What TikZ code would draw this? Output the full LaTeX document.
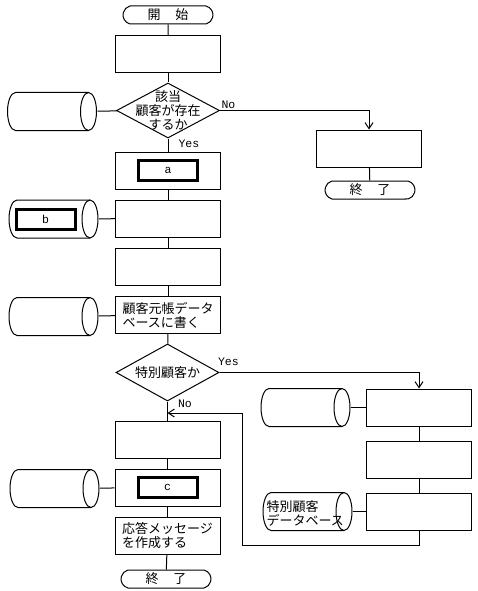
\documentclass[tikz,border=0pt]{standalone}
\usepackage{fontspec}
\setmainfont{Noto Sans CJK JP}
\setmonofont{Liberation Mono}
\usetikzlibrary{shapes.geometric}
\usetikzlibrary{shapes.misc}
\usetikzlibrary{positioning}
\usetikzlibrary{arrows.meta}
\tikzset{
    every node/.style={inner sep=0pt},
    term/.style={
        draw,
        rounded rectangle,
        rounded rectangle arc length=150,
        minimum width=90pt,
        minimum height=18pt},
    proc/.style={
        draw,
        minimum width=105pt,
        minimum height=37pt,
        align=left},
    dec/.style={
        draw,
        diamond,
        minimum width=103pt,
        minimum height=55pt},
    db/.style={
        minimum width=90pt,
        minimum height=39pt,
        path picture={
            \draw[line width=1pt]
                ([xshift=-8.5pt,yshift=-0.5pt]path picture bounding box.north east)
                -- ([xshift=8.5pt,yshift=-0.5pt]path picture bounding box.north west)
                arc[start angle=90,end angle=270,x radius=8pt,y radius=19pt]
                -- ([xshift=-8.5pt,yshift=0.5pt]path picture bounding box.south east);
            \draw[line width=1pt]
                ([xshift=-8.5pt]path picture bounding box.east)
                ellipse[x radius=8pt,y radius=19pt];}},
    key/.style={
        draw,
        line width=3pt,
        minimum width=59pt,
        minimum height=20pt,
        font=\ttfamily\fontsize{11.5}{12}\selectfont},
    lbl/.style={
        inner sep=1pt,
        font=\ttfamily\fontsize{11.5}{12}\selectfont},
    conn/.style={
        draw,
        line width=1pt},
    flow/.style={
        conn,
        -{Straight Barb[length=6pt,width=8pt]}}}

\begin{document}
\begin{tikzpicture}[x=1pt,y=-1pt,line width=1pt,font=\fontsize{13}{14}\selectfont]
    \useasboundingbox (0,0) rectangle (477,591);

    % main column
    \node[term] (start) at (168,15) {開\hspace{15pt}始};
    \node[proc] (p1) at (168,54.5) {};
    \node[dec,label={[align=center]center:該当\\顧客が存在\\するか}] (found) at (168,110.5) {};
    \node[proc] (pa) at (168,170.5) {};
    \node[key] (a) at (pa) {a};
    \node[proc] (pb) at (168,218.5) {};
    \node[proc] (p3) at (168,267) {};
    \node[proc] (write) at (168,315) {顧客元帳データ\\ベースに書く};
    \node[dec,minimum height=57pt,label=center:特別顧客か] (special) at (167.5,372.5) {};
    \coordinate (join) at (167.5,413);
    \node[proc] (p5) at (167.5,439.5) {};
    \node[proc] (pc) at (167.5,487.5) {};
    \node[key] (c) at (pc) {c};
    \node[proc] (reply) at (167.5,535.5) {応答メッセージ\\を作成する};
    \node[term] (stop) at (166,579) {終\hspace{15pt}了};

    % databases
    \node[db] (db1) at (52,111.5) {};
    \node[db] (db2) at (53.5,219) {};
    \node[key] (b) at (45.5,219) {b};
    \node[db] (db3) at (53.5,316.5) {};
    \node[db] (db4) at (54.5,488.5) {};

    % not found
    \node[proc] (q0) at (369,148.5) {};
    \node[term] (stop2) at (370,190) {終\hspace{15pt}了};

    % special customer
    \node[proc] (s1) at (419,407.5) {};
    \node[db] (db5) at (305.5,407.5) {};
    \node[proc] (s2) at (419,460) {};
    \node[proc] (s3) at (419,511.5) {};
    \node[db] (sdb) at (307.5,511.5) {};
    \node[align=left,anchor=west] (sdbtext) at (266,513) {特別顧客\\データベース};
    \coordinate (back) at (242,545);

    \draw[conn] (start) -- (p1);
    \draw[conn] (p1) -- (found);
    \draw[conn] (found.south) node[lbl,anchor=north west,xshift=9pt] (yes1) {Yes} -- (pa);
    \draw[conn] (pa) -- (pb);
    \draw[conn] (pb) -- (p3);
    \draw[conn] (p3) -- (write);
    \draw[conn] (write) -- (special);
    \draw[conn] (special.south) node[lbl,anchor=west,xshift=9pt,yshift=-2pt] (no2) {No} -- (p5);
    \draw[conn] (p5) -- (pc);
    \draw[conn] (pc) -- (reply);
    \draw[conn] (reply) -- (stop);

    \draw[conn] (db1) -- (found);
    \draw[conn] (db2) -- (pb);
    \draw[conn] (db3) -- (write);
    \draw[conn] (db4) -- (pc);

    \draw[flow] (found.east) node[lbl,anchor=south west] (no1) {No} -| (q0.north);
    \draw[conn] (q0) -- (stop2);

    \draw[flow] (special.east) node[lbl,anchor=south west,xshift=-3pt,yshift=5pt] (yes2) {Yes} -| (s1.north);
    \draw[conn] (db5) -- (s1);
    \draw[conn] (s1) -- (s2);
    \draw[conn] (s2) -- (s3);
    \draw[conn] (sdb) -- (s3);
    \draw[flow] (s3) |- (back) |- (join);
\end{tikzpicture}
\end{document}
